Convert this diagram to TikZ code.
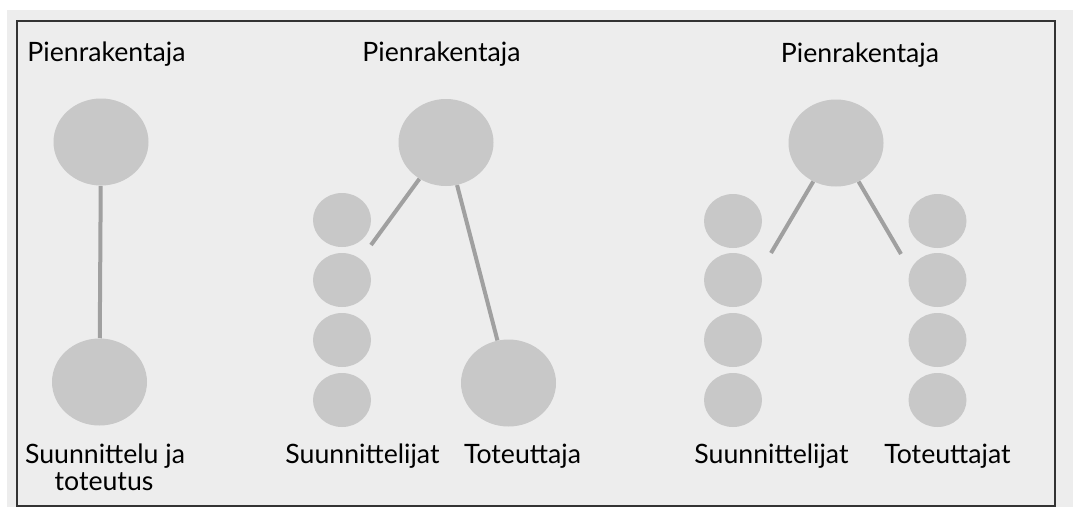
\documentclass[tikz,border=0pt]{standalone}
\usepackage{fontspec}
\setmainfont{Lato}
\usetikzlibrary{shapes.geometric}
\definecolor{paper}{HTML}{EDEDED}
\definecolor{disc}{HTML}{C8C8C8}
\definecolor{stem}{HTML}{A0A0A0}
\definecolor{frame}{HTML}{333333}
\tikzset{
  big/.style={ellipse, fill=disc, draw=none, inner sep=0pt, minimum width=71.25pt, minimum height=65.25pt},
  small/.style={ellipse, fill=disc, draw=none, inner sep=0pt, minimum width=43.5pt, minimum height=40.5pt},
  link/.style={draw=stem, line width=3pt},
  lbl/.style={anchor=base, inner sep=0pt, font=\fontsize{20}{24}\selectfont, text=black}
}
\begin{document}
\begin{tikzpicture}[x=0.75pt,y=-0.75pt]
\useasboundingbox (0,0) rectangle (1073,507);
\fill[paper] (7,10) rectangle (1073,507);
\draw[frame, line width=1.5pt] (16.5,21) rectangle (1054.5,505.5);

% Diagram 1
\node[big] (a1) at (101,142) {};
\node[big] (a2) at (99.5,382) {};
\draw[link] (a1) -- (a2);
\node[lbl] (ta) at (106.5,61) {Pienrakentaja};
\node[lbl] (ba1) at (105,463) {Suunnittelu ja};
\node[lbl] (ba2) at (104,490) {toteutus};

% Diagram 2
\node[big] (b1) at (446,142.5) {};
\node[big] (b2) at (508.5,383) {};
\node[small] (bs1) at (342,220) {};
\node[small] (bs2) at (342,280) {};
\node[small] (bs3) at (342,340) {};
\node[small] (bs4) at (342,400) {};
\coordinate (bend) at (371,245);
\draw[link] (b1) -- (bend);
\draw[link] (b1) -- (b2);
\node[lbl] (tb) at (441.5,61) {Pienrakentaja};
\node[lbl] (bb1) at (362.5,463) {Suunnittelijat};
\node[lbl] (bb2) at (522.5,463) {Toteuttaja};

% Diagram 3
\node[big] (c1) at (836,143) {};
\node[small] (cl1) at (733,221) {};
\node[small] (cl2) at (733,280) {};
\node[small] (cl3) at (733,340) {};
\node[small] (cl4) at (733,400) {};
\node[small] (cr1) at (937.5,221) {};
\node[small] (cr2) at (937.5,280) {};
\node[small] (cr3) at (937.5,340) {};
\node[small] (cr4) at (937.5,400) {};
\coordinate (cendl) at (771,253);
\coordinate (cendr) at (901,254);
\draw[link] (c1) -- (cendl);
\draw[link] (c1) -- (cendr);
\node[lbl] (tc) at (860,62) {Pienrakentaja};
\node[lbl] (bc1) at (771.5,463) {Suunnittelijat};
\node[lbl] (bc2) at (947.5,463) {Toteuttajat};
\end{tikzpicture}
\end{document}
